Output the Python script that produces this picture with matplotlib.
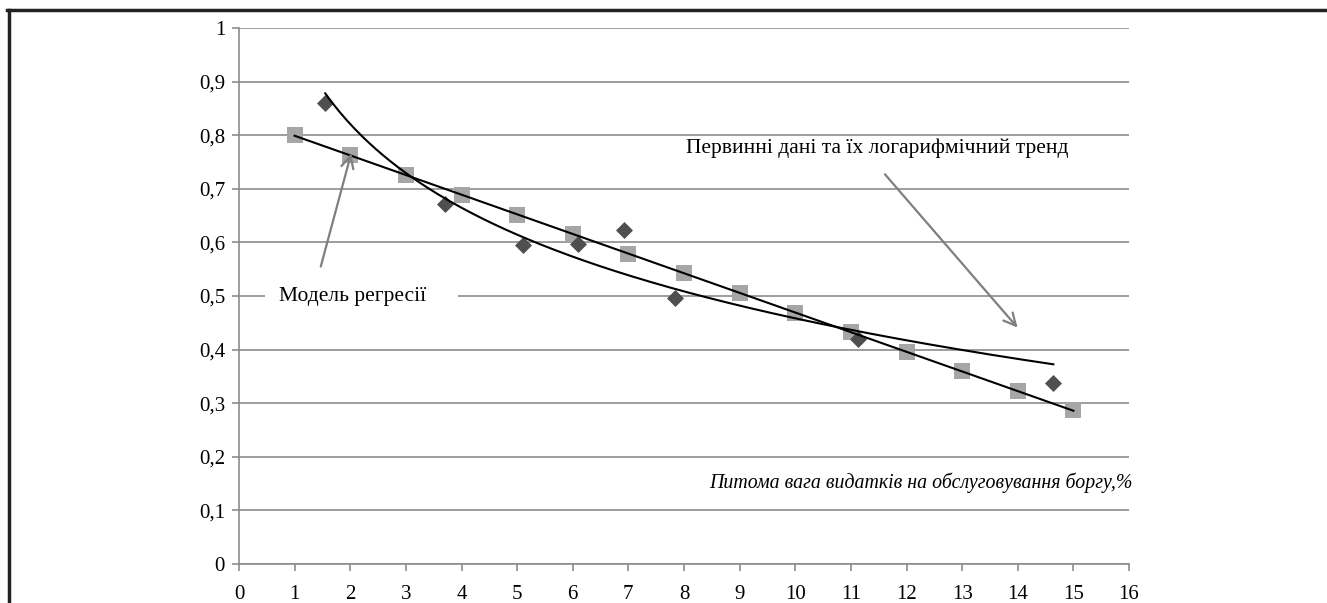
import numpy as np
import matplotlib
matplotlib.use("Agg")
import matplotlib.pyplot as plt
from matplotlib.lines import Line2D
from matplotlib.patches import Rectangle

# Data
reg_x = [1, 2, 3, 4, 5, 6, 7, 8, 9, 10, 11, 12, 13, 14, 15]
reg_y = [0.800, 0.763, 0.726, 0.689, 0.652, 0.615, 0.579, 0.542,
         0.505, 0.468, 0.432, 0.396, 0.360, 0.323, 0.287]
raw_x = [1.55, 3.70, 5.10, 6.10, 6.93, 7.84, 11.13, 14.64]
raw_y = [0.860, 0.672, 0.595, 0.597, 0.623, 0.496, 0.420, 0.338]
x_ticks = list(range(0, 17))
y_ticks = [0, 0.1, 0.2, 0.3, 0.4, 0.5, 0.6, 0.7, 0.8, 0.9, 1.0]
y_tick_labels = ["0", "0,1", "0,2", "0,3", "0,4", "0,5", "0,6", "0,7", "0,8", "0,9", "1"]
x_label = "Питома вага видатків на обслуговування боргу,%"
label_reg = "Модель регресії"
label_raw = "Первинні дані та їх логарифмічний тренд"

plt.rcParams['font.family'] = ['Liberation Serif', 'DejaVu Serif']

fig = plt.figure(figsize=(13.27, 6.03), dpi=100)
ax = fig.add_axes([239/1327, 1-564/603, (1129-239)/1327, (564-28)/603])

ax.set_xlim(0, 16)
ax.set_ylim(0, 1)
ax.set_xticks(x_ticks)
ax.set_xticklabels([str(t) for t in x_ticks])
ax.set_yticks(y_ticks)
ax.set_yticklabels(y_tick_labels)
ax.grid(axis='y', color='#8c8c8c', linewidth=1.2)
ax.set_axisbelow(True)
for s in ['top', 'right']:
    ax.spines[s].set_visible(False)
for s in ['left', 'bottom']:
    ax.spines[s].set_color('#8c8c8c')
    ax.spines[s].set_linewidth(1.2)
ax.tick_params(axis='both', colors='#8c8c8c', labelcolor='black', labelsize=15,
               length=5, width=1.2)
ax.tick_params(axis='x', pad=10)
ax.tick_params(axis='y', pad=5)

# markers
ax.scatter(reg_x, reg_y, marker='s', s=118, color='#a6a6a6', zorder=3, linewidths=0)
ax.scatter(raw_x, raw_y, marker='D', s=75, color='#4f4f4f', zorder=3, linewidths=0)

# linear regression line through squares
p = np.polyfit(reg_x, reg_y, 1)
xl = np.array([reg_x[0], reg_x[-1]])
ax.plot(xl, np.polyval(p, xl), color='black', linewidth=1.5, zorder=4)

# logarithmic trend through diamonds
b, a = np.polyfit(np.log(raw_x), raw_y, 1)
xt = np.linspace(raw_x[0], raw_x[-1], 200)
ax.plot(xt, a + b*np.log(xt), color='black', linewidth=1.5, zorder=4)

# annotations
ax.add_patch(Rectangle((0.47, 0.475), 3.47, 0.05, facecolor='white', edgecolor='none', zorder=4.5))
ax.text(0.72, 0.50, label_reg, fontsize=15.5, ha='left', va='center', zorder=5)
ax.annotate('', xy=(2.03, 0.771), xytext=(1.457, 0.550),
            arrowprops=dict(arrowstyle='->', color='#7f7f7f', lw=1.6,
                            mutation_scale=22), zorder=5)
ax.text(8.04, 0.776, label_raw, fontsize=15.5, ha='left', va='center', zorder=5)
ax.annotate('', xy=(14.03, 0.437), xytext=(11.58, 0.731),
            arrowprops=dict(arrowstyle='->', color='#7f7f7f', lw=1.6,
                            mutation_scale=22), zorder=5)
ax.text(16.07, 0.151, x_label, fontsize=14.3, style='italic', ha='right', va='center', zorder=5)

# figure frame (top and left)
fig.add_artist(Line2D([8.5/1327, 8.5/1327], [0, 1-10/603], transform=fig.transFigure,
                      color='#222222', linewidth=2.5))
fig.add_artist(Line2D([7/1327, 1], [1-10/603, 1-10/603], transform=fig.transFigure,
                      color='#222222', linewidth=2.5))

fig.savefig('out.png', dpi=100)
